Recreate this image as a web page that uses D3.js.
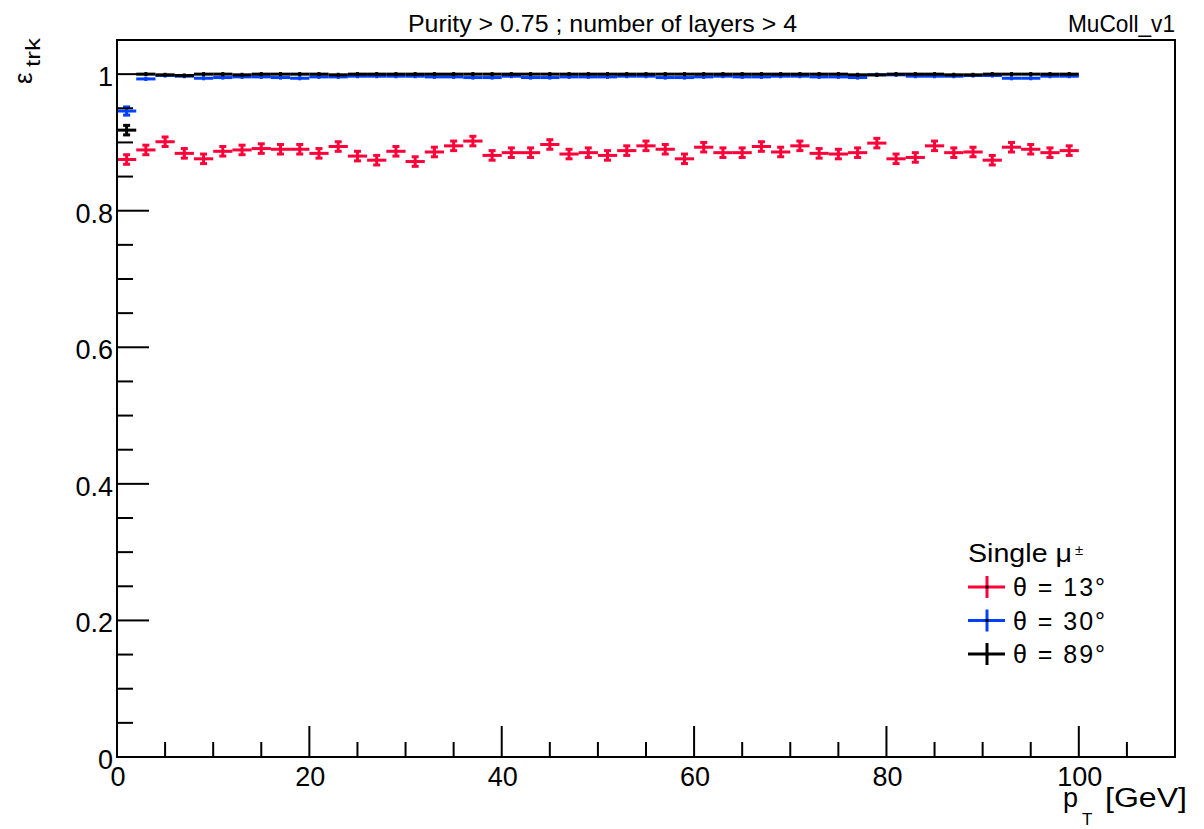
<!DOCTYPE html>
<html><head><meta charset="utf-8">
<script src="https://cdn.jsdelivr.net/npm/d3@7"></script>
<style>body{margin:0;background:#fff;} svg{display:block;font-family:"Liberation Sans",Arial,sans-serif;}</style>
</head><body>
<svg id="c" width="1204" height="829"></svg>
<script>
const binEdges = d3.range(0, 102, 2); // 0..100, 2 GeV bins
const red = [0.875,0.889,0.901,0.884,0.876,0.887,0.889,0.891,0.890,0.890,0.884,0.894,0.880,0.874,0.887,0.872,0.886,
  0.895,0.902,0.881,0.885,0.885,0.897,0.883,0.885,0.881,0.888,0.895,0.890,0.876,0.893,0.885,0.885,0.894,
  0.886,0.895,0.884,0.883,0.885,0.899,0.876,0.878,0.895,0.885,0.886,0.874,0.893,0.890,0.885,0.888];
const blue = [0.946,0.993,0.998,0.997,0.994,0.995,0.996,0.996,0.995,0.994,0.996,0.996,0.997,0.997,0.997,0.997,0.996,
  0.996,0.995,0.995,0.997,0.995,0.995,0.996,0.996,0.996,0.997,0.997,0.995,0.995,0.996,0.997,0.996,0.996,
  0.997,0.997,0.996,0.996,0.995,0.999,0.999,0.997,0.997,0.997,0.998,0.998,0.994,0.994,0.997,0.997];
const black = [0.918,1.0,0.999,0.998,1.0,1.0,0.999,1.0,1.0,1.0,1.0,0.999,1.0,1.0,1.0,1.0,1.0,
  1.0,1.0,1.0,1.0,1.0,1.0,1.0,1.0,1.0,1.0,1.0,1.0,1.0,1.0,1.0,1.0,1.0,
  1.0,1.0,1.0,1.0,0.999,0.999,1.0,1.0,1.0,0.999,0.999,1.0,1.0,1.0,1.0,1.0];
const redErr = 0.007, blueErr = 0.003, blackErr = 0.003;
const firstErr = [0.007, 0.006, 0.007];
const xTicks = [0,20,40,60,80,100];
const yTicks = [0,0.2,0.4,0.6,0.8,1];
const yTickLabels = ["0","0.2","0.4","0.6","0.8","1"];
const legendLabels = ["θ = 13°","θ = 30°","θ = 89°"];
const colors = ["#ff0038","#0040ff","#000000"];

const svg = d3.select("#c");
const L=117, R=1175, T=40, B=757;
const x = d3.scaleLinear().domain([0,110]).range([L,R]);
const y = d3.scaleLinear().domain([0,1.05]).range([B,T]);

// series
const series = [{v:red,e:redErr,c:colors[0]},{v:blue,e:blueErr,c:colors[1]},{v:black,e:blackErr,c:colors[2]}];
series.forEach((s,si)=>{
  const g = svg.append("g");
  s.v.forEach((val,i)=>{
    const x0=x(binEdges[i]), x1=x(binEdges[i+1]), xc=(x0+x1)/2;
    const err = i===0 ? firstErr[si] : s.e;
    const yc=y(val), yt=y(val+err), yb=y(val-err);
    g.append("line").attr("x1",x0).attr("x2",x1).attr("y1",yc).attr("y2",yc).attr("stroke",s.c).attr("stroke-width",3);
    g.append("line").attr("x1",xc).attr("x2",xc).attr("y1",yt).attr("y2",yb).attr("stroke",s.c).attr("stroke-width",3);
    if (err>0.004){
      g.append("line").attr("x1",xc-3.5).attr("x2",xc+3.5).attr("y1",yt).attr("y2",yt).attr("stroke",s.c).attr("stroke-width",3);
      g.append("line").attr("x1",xc-3.5).attr("x2",xc+3.5).attr("y1",yb).attr("y2",yb).attr("stroke",s.c).attr("stroke-width",3);
    }
  });
});

// frame
svg.append("rect").attr("x",L).attr("y",T).attr("width",R-L).attr("height",B-T).attr("fill","none").attr("stroke","#000").attr("stroke-width",2);

// x ticks (inside)
const xMinor = d3.range(0,111,5);
xMinor.forEach(t=>{
  const major = t%20===0;
  svg.append("line").attr("x1",x(t)).attr("x2",x(t)).attr("y1",B).attr("y2",B-(major?31:15)).attr("stroke","#000").attr("stroke-width",2);
});
xTicks.forEach(t=>{
  svg.append("text").attr("x",x(t)+1).attr("y",786).attr("text-anchor","middle").attr("font-size",27).text(t);
});
// y ticks
const yMinor = d3.range(0,1.0501,0.05);
yMinor.forEach(t=>{
  const major = Math.abs(Math.round(t*5)-t*5)<1e-6;
  svg.append("line").attr("x1",L).attr("x2",L+(major?32:16)).attr("y1",y(t)).attr("y2",y(t)).attr("stroke","#000").attr("stroke-width",2);
});
yTicks.forEach((t,i)=>{
  svg.append("text").attr("x",113).attr("y",y(t)+12).attr("text-anchor","end").attr("font-size",27).text(yTickLabels[i]);
});

// titles
svg.append("text").attr("x",408).attr("y",32).attr("font-size",24)
  .attr("textLength",389).attr("lengthAdjust","spacingAndGlyphs").text("Purity > 0.75 ; number of layers > 4");
svg.append("text").attr("x",1068).attr("y",32).attr("font-size",24)
  .attr("textLength",107).attr("lengthAdjust","spacingAndGlyphs").text("MuColl_v1");

// x label
svg.append("text").attr("x",1063).attr("y",807).attr("font-size",27).text("p");
svg.append("text").attr("x",1082).attr("y",825).attr("font-size",17).text("T");
svg.append("text").attr("x",1105).attr("y",807).attr("font-size",27)
  .attr("textLength",82).attr("lengthAdjust","spacingAndGlyphs").text("[GeV]");

// y label
svg.append("text").attr("transform","translate(32,84) rotate(-90)").attr("font-size",26).text("ε");
svg.append("text").attr("transform","translate(40,67) rotate(-90)").attr("font-size",20)
  .attr("textLength",29).attr("lengthAdjust","spacingAndGlyphs").text("trk");

// legend
const lg = svg.append("g");
lg.append("text").attr("x",968).attr("y",562).attr("font-size",25)
  .attr("textLength",104).attr("lengthAdjust","spacingAndGlyphs").text("Single μ");
lg.append("text").attr("x",1075).attr("y",555).attr("font-size",15).text("±");
legendLabels.forEach((lab,i)=>{
  const yy = 587 + i*33.5;
  lg.append("line").attr("x1",968).attr("x2",1005).attr("y1",yy).attr("y2",yy).attr("stroke",colors[i]).attr("stroke-width",3);
  lg.append("line").attr("x1",987).attr("x2",987).attr("y1",yy-11).attr("y2",yy+11).attr("stroke",colors[i]).attr("stroke-width",3);
  lg.append("rect").attr("x",985.5).attr("y",yy-1.5).attr("width",3).attr("height",3).attr("fill","#000");
  lg.append("text").attr("x",1013).attr("y",yy+9).attr("font-size",25)
    .attr("textLength",92).attr("lengthAdjust","spacing").text(lab);
});
</script>
</body></html>
